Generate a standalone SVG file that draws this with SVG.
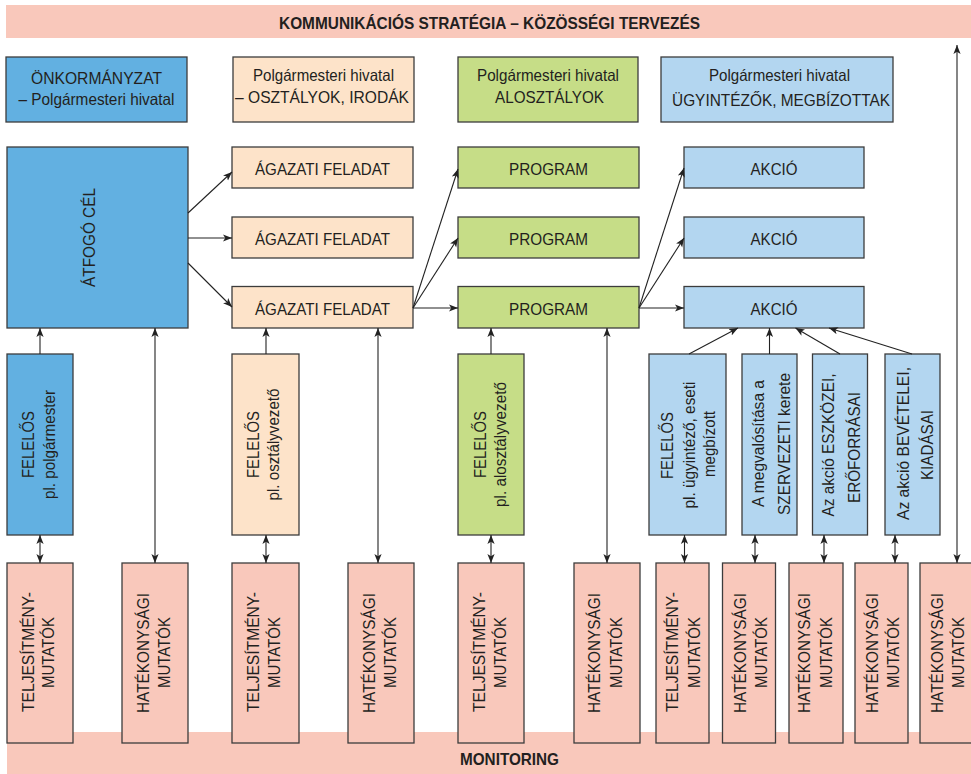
<svg xmlns="http://www.w3.org/2000/svg" width="971" height="774" viewBox="0 0 971 774">
<defs>
<style>
.box{stroke:#3c3c3c;stroke-width:1.3}
.dk{fill:#62b0e1}.pe{fill:#fde3c9}.gr{fill:#c6dd87}.lb{fill:#b3d6f0}.pk{fill:#f9c8bb}
text{font-family:"Liberation Sans",Arial,sans-serif;font-size:16.5px;fill:#231f20;text-anchor:middle}
.b{font-weight:bold}
.ln{stroke:#222;stroke-width:1.1;fill:none}
.a1{marker-end:url(#ah)}
.a2{marker-start:url(#ah);marker-end:url(#ah)}
</style>
<marker id="ah" viewBox="0 0 10 10" refX="10" refY="5" markerWidth="9" markerHeight="9" markerUnits="userSpaceOnUse" orient="auto-start-reverse">
<path d="M0,1 L10,5 L0,9 L2.5,5 z" fill="#222"/>
</marker>
</defs>
<rect width="971" height="774" fill="#fff"/>

<!-- strategy bar -->
<g id="strategy">
<rect x="6" y="5" width="970" height="33" class="pk"/>
<text x="489.5" y="29" class="b" font-size="15.5" textLength="421" lengthAdjust="spacingAndGlyphs">KOMMUNIKÁCIÓS STRATÉGIA – KÖZÖSSÉGI TERVEZÉS</text>
</g>

<!-- monitoring bar -->
<g id="monitoring">
<rect x="7" y="732" width="970" height="42" class="pk"/>
<text x="509.5" y="765" class="b" font-size="17" textLength="99" lengthAdjust="spacingAndGlyphs">MONITORING</text>
</g>

<!-- level headers -->
<g id="h-onkormanyzat">
<rect x="6" y="57" width="181" height="65" class="box dk"/>
<text x="96.5" y="84" textLength="131" lengthAdjust="spacingAndGlyphs">ÖNKORMÁNYZAT</text>
<text x="96.5" y="105" textLength="156" lengthAdjust="spacingAndGlyphs">– Polgármesteri hivatal</text>
</g>
<g id="h-osztalyok">
<rect x="233" y="57" width="181" height="65" class="box pe"/>
<text x="323.5" y="81" textLength="141" lengthAdjust="spacingAndGlyphs">Polgármesteri hivatal</text>
<text x="322" y="103" textLength="174" lengthAdjust="spacingAndGlyphs">– OSZTÁLYOK, IRODÁK</text>
</g>
<g id="h-alosztalyok">
<rect x="458" y="57" width="180" height="65" class="box gr"/>
<text x="548" y="81" textLength="142" lengthAdjust="spacingAndGlyphs">Polgármesteri hivatal</text>
<text x="549.5" y="103" textLength="109" lengthAdjust="spacingAndGlyphs">ALOSZTÁLYOK</text>
</g>
<g id="h-ugyintezok">
<rect x="661" y="57" width="232" height="65" class="box lb"/>
<text x="779.5" y="81" textLength="141" lengthAdjust="spacingAndGlyphs">Polgármesteri hivatal</text>
<text x="781" y="106" textLength="218" lengthAdjust="spacingAndGlyphs">ÜGYINTÉZŐK, MEGBÍZOTTAK</text>
</g>

<!-- main goal -->
<g id="atfogo-cel">
<rect x="7" y="147" width="181" height="181" class="box dk"/>
<text transform="translate(95,237.5) rotate(-90)" textLength="99" lengthAdjust="spacingAndGlyphs">ÁTFOGÓ CÉL</text>
</g>

<!-- sector tasks -->
<g id="agazati-1"><rect x="232" y="147" width="181" height="41" class="box pe"/><text x="322.5" y="175" textLength="135" lengthAdjust="spacingAndGlyphs">ÁGAZATI FELADAT</text></g>
<g id="agazati-2"><rect x="232" y="217" width="181" height="41" class="box pe"/><text x="322.5" y="245" textLength="135" lengthAdjust="spacingAndGlyphs">ÁGAZATI FELADAT</text></g>
<g id="agazati-3"><rect x="232" y="286.5" width="181" height="41.5" class="box pe"/><text x="322.5" y="315" textLength="135" lengthAdjust="spacingAndGlyphs">ÁGAZATI FELADAT</text></g>

<!-- programmes -->
<g id="program-1"><rect x="458" y="147" width="181" height="41" class="box gr"/><text x="548.5" y="175" textLength="79" lengthAdjust="spacingAndGlyphs">PROGRAM</text></g>
<g id="program-2"><rect x="458" y="217" width="181" height="41" class="box gr"/><text x="548.5" y="245" textLength="79" lengthAdjust="spacingAndGlyphs">PROGRAM</text></g>
<g id="program-3"><rect x="458" y="286.5" width="181" height="41.5" class="box gr"/><text x="548.5" y="315" textLength="79" lengthAdjust="spacingAndGlyphs">PROGRAM</text></g>

<!-- actions -->
<g id="akcio-1"><rect x="684" y="147" width="180" height="41" class="box lb"/><text x="774" y="175" textLength="47" lengthAdjust="spacingAndGlyphs">AKCIÓ</text></g>
<g id="akcio-2"><rect x="684" y="217" width="180" height="41" class="box lb"/><text x="774" y="245" textLength="47" lengthAdjust="spacingAndGlyphs">AKCIÓ</text></g>
<g id="akcio-3"><rect x="684" y="286.5" width="180" height="41.5" class="box lb"/><text x="774" y="315" textLength="47" lengthAdjust="spacingAndGlyphs">AKCIÓ</text></g>

<!-- responsible persons and action attributes -->
<g id="felelos-polgarmester">
<rect x="7" y="354" width="66" height="181" class="box dk"/>
<text transform="translate(33.5,444.5) rotate(-90)" textLength="67" lengthAdjust="spacingAndGlyphs">FELELŐS</text>
<text transform="translate(54.5,444.5) rotate(-90)" textLength="109" lengthAdjust="spacingAndGlyphs">pl. polgármester</text>
</g>
<g id="felelos-osztalyvezeto">
<rect x="232" y="354" width="67" height="181" class="box pe"/>
<text transform="translate(258.5,444.5) rotate(-90)" textLength="67" lengthAdjust="spacingAndGlyphs">FELELŐS</text>
<text transform="translate(279,444.5) rotate(-90)" textLength="112" lengthAdjust="spacingAndGlyphs">pl. osztályvezető</text>
</g>
<g id="felelos-alosztalyvezeto">
<rect x="458" y="354" width="66" height="181" class="box gr"/>
<text transform="translate(486,444.5) rotate(-90)" textLength="67" lengthAdjust="spacingAndGlyphs">FELELŐS</text>
<text transform="translate(506,444.5) rotate(-90)" textLength="125" lengthAdjust="spacingAndGlyphs">pl. alosztályvezető</text>
</g>
<g id="felelos-ugyintezo">
<rect x="649" y="354" width="77" height="181" class="box lb"/>
<text transform="translate(673,445.5) rotate(-90)" textLength="67" lengthAdjust="spacingAndGlyphs">FELELŐS</text>
<text transform="translate(695,445) rotate(-90)" textLength="127" lengthAdjust="spacingAndGlyphs">pl. ügyintéző, eseti</text>
<text transform="translate(714.5,444) rotate(-90)" textLength="66" lengthAdjust="spacingAndGlyphs">megbízott</text>
</g>
<g id="szervezeti-keret">
<rect x="742" y="354" width="55" height="181" class="box lb"/>
<text transform="translate(763.5,443.5) rotate(-90)" textLength="127" lengthAdjust="spacingAndGlyphs">A megvalósítása a</text>
<text transform="translate(790,444) rotate(-90)" textLength="142" lengthAdjust="spacingAndGlyphs">SZERVEZETI kerete</text>
</g>
<g id="eszkozok">
<rect x="812.5" y="354" width="55" height="181" class="box lb"/>
<text transform="translate(834,445) rotate(-90)" textLength="143" lengthAdjust="spacingAndGlyphs">Az akció ESZKÖZEI,</text>
<text transform="translate(860,447.5) rotate(-90)" textLength="111" lengthAdjust="spacingAndGlyphs">ERŐFORRÁSAI</text>
</g>
<g id="bevetelek">
<rect x="885" y="354" width="55" height="181" class="box lb"/>
<text transform="translate(908.5,443.5) rotate(-90)" textLength="153" lengthAdjust="spacingAndGlyphs">Az akció BEVÉTELEI,</text>
<text transform="translate(932.5,445) rotate(-90)" textLength="70" lengthAdjust="spacingAndGlyphs">KIADÁSAI</text>
</g>

<!-- indicator boxes -->
<g id="mutato-1"><rect x="7" y="563" width="66" height="180" class="box pk"/>
<text transform="translate(33.5,652) rotate(-90)" textLength="120" lengthAdjust="spacingAndGlyphs">TELJESÍTMÉNY-</text>
<text transform="translate(54,652.5) rotate(-90)" textLength="71" lengthAdjust="spacingAndGlyphs">MUTATÓK</text></g>
<g id="mutato-2"><rect x="122" y="563" width="66" height="180" class="box pk"/>
<text transform="translate(148.5,653) rotate(-90)" textLength="120" lengthAdjust="spacingAndGlyphs">HATÉKONYSÁGI</text>
<text transform="translate(170,652.5) rotate(-90)" textLength="71" lengthAdjust="spacingAndGlyphs">MUTATÓK</text></g>
<g id="mutato-3"><rect x="232" y="563" width="67" height="180" class="box pk"/>
<text transform="translate(259,652) rotate(-90)" textLength="120" lengthAdjust="spacingAndGlyphs">TELJESÍTMÉNY-</text>
<text transform="translate(280,652.5) rotate(-90)" textLength="71" lengthAdjust="spacingAndGlyphs">MUTATÓK</text></g>
<g id="mutato-4"><rect x="348" y="563" width="66" height="180" class="box pk"/>
<text transform="translate(375,653) rotate(-90)" textLength="120" lengthAdjust="spacingAndGlyphs">HATÉKONYSÁGI</text>
<text transform="translate(396,652.5) rotate(-90)" textLength="71" lengthAdjust="spacingAndGlyphs">MUTATÓK</text></g>
<g id="mutato-5"><rect x="458" y="563" width="66" height="180" class="box pk"/>
<text transform="translate(485,652) rotate(-90)" textLength="120" lengthAdjust="spacingAndGlyphs">TELJESÍTMÉNY-</text>
<text transform="translate(506,652.5) rotate(-90)" textLength="71" lengthAdjust="spacingAndGlyphs">MUTATÓK</text></g>
<g id="mutato-6"><rect x="574" y="563" width="66" height="180" class="box pk"/>
<text transform="translate(600,653) rotate(-90)" textLength="120" lengthAdjust="spacingAndGlyphs">HATÉKONYSÁGI</text>
<text transform="translate(621.5,652.5) rotate(-90)" textLength="71" lengthAdjust="spacingAndGlyphs">MUTATÓK</text></g>
<g id="mutato-7"><rect x="656" y="563" width="53" height="180" class="box pk"/>
<text transform="translate(678,652) rotate(-90)" textLength="120" lengthAdjust="spacingAndGlyphs">TELJESÍTMÉNY-</text>
<text transform="translate(700,652.5) rotate(-90)" textLength="71" lengthAdjust="spacingAndGlyphs">MUTATÓK</text></g>
<g id="mutato-8"><rect x="722.5" y="563" width="53" height="180" class="box pk"/>
<text transform="translate(745.5,653) rotate(-90)" textLength="120" lengthAdjust="spacingAndGlyphs">HATÉKONYSÁGI</text>
<text transform="translate(766.5,652.5) rotate(-90)" textLength="71" lengthAdjust="spacingAndGlyphs">MUTATÓK</text></g>
<g id="mutato-9"><rect x="789" y="563" width="54" height="180" class="box pk"/>
<text transform="translate(810,653) rotate(-90)" textLength="120" lengthAdjust="spacingAndGlyphs">HATÉKONYSÁGI</text>
<text transform="translate(831.5,652.5) rotate(-90)" textLength="71" lengthAdjust="spacingAndGlyphs">MUTATÓK</text></g>
<g id="mutato-10"><rect x="855" y="563" width="53" height="180" class="box pk"/>
<text transform="translate(877.5,653) rotate(-90)" textLength="120" lengthAdjust="spacingAndGlyphs">HATÉKONYSÁGI</text>
<text transform="translate(899,652.5) rotate(-90)" textLength="71" lengthAdjust="spacingAndGlyphs">MUTATÓK</text></g>
<g id="mutato-11"><rect x="920" y="563" width="56" height="180" class="box pk"/>
<text transform="translate(943,653) rotate(-90)" textLength="120" lengthAdjust="spacingAndGlyphs">HATÉKONYSÁGI</text>
<text transform="translate(964,652.5) rotate(-90)" textLength="71" lengthAdjust="spacingAndGlyphs">MUTATÓK</text></g>

<!-- connectors -->
<g id="connectors" class="ln">
<line x1="188" y1="213" x2="232" y2="172" class="a1"/>
<line x1="188" y1="238" x2="232" y2="238" class="a1"/>
<line x1="188" y1="263" x2="232" y2="307" class="a1"/>
<line x1="413" y1="308" x2="458" y2="169" class="a1"/>
<line x1="413" y1="308" x2="458" y2="238" class="a1"/>
<line x1="413" y1="308" x2="458" y2="308" class="a1"/>
<line x1="639" y1="308" x2="684" y2="168" class="a1"/>
<line x1="639" y1="308" x2="684" y2="238" class="a1"/>
<line x1="639" y1="308" x2="684" y2="308" class="a1"/>
<line x1="40" y1="354" x2="40" y2="328" class="a1"/>
<line x1="266" y1="354" x2="266" y2="328" class="a1"/>
<line x1="491" y1="354" x2="491" y2="328" class="a1"/>
<line x1="689" y1="354" x2="738" y2="328" class="a1"/>
<line x1="769.5" y1="354" x2="769.5" y2="328" class="a1"/>
<line x1="840" y1="354" x2="795.5" y2="328" class="a1"/>
<line x1="912" y1="354" x2="829" y2="328" class="a1"/>
<line x1="155" y1="328" x2="155" y2="563" class="a2"/>
<line x1="378" y1="328" x2="378" y2="563" class="a2"/>
<line x1="607" y1="328" x2="607" y2="563" class="a2"/>
<line x1="40" y1="535" x2="40" y2="563" class="a2"/>
<line x1="266" y1="535" x2="266" y2="563" class="a2"/>
<line x1="491" y1="535" x2="491" y2="563" class="a2"/>
<line x1="684.5" y1="535" x2="684.5" y2="563" class="a2"/>
<line x1="755" y1="535" x2="755" y2="563" class="a2"/>
<line x1="824" y1="535" x2="824" y2="563" class="a2"/>
<line x1="895" y1="535" x2="895" y2="563" class="a2"/>
<line x1="957" y1="45" x2="957" y2="563" class="a2"/>
</g>
</svg>
